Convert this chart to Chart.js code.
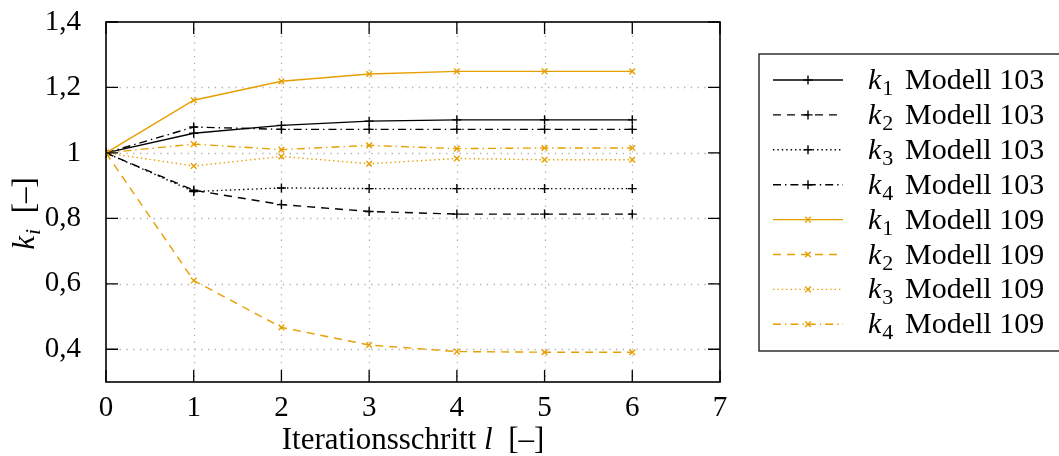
<!DOCTYPE html>
<html>
<head>
<meta charset="utf-8">
<script src="https://cdn.jsdelivr.net/npm/chart.js@4/dist/chart.umd.min.js"></script>
<style>
  html, body { margin: 0; padding: 0; background: #fff; }
  #wrap { width: 1059px; height: 456px; position: relative; }
</style>
</head>
<body>
<div id="wrap"><canvas id="c" width="1059" height="456"></canvas></div>
<script>
// Iteration steps and convergence factors k_i per model
const steps = [0, 1, 2, 3, 4, 5, 6];
const k1_103 = [1, 1.060, 1.084, 1.097, 1.101, 1.101, 1.101];
const k2_103 = [1, 0.886, 0.842, 0.821, 0.813, 0.813, 0.813];
const k3_103 = [1, 0.882, 0.893, 0.891, 0.891, 0.891, 0.891];
const k4_103 = [1, 1.079, 1.072, 1.072, 1.072, 1.072, 1.072];
const k1_109 = [1, 1.161, 1.219, 1.241, 1.249, 1.249, 1.249];
const k2_109 = [1, 0.610, 0.467, 0.413, 0.393, 0.391, 0.391];
const k3_109 = [1, 0.960, 0.989, 0.967, 0.983, 0.979, 0.979];
const k4_109 = [1, 1.027, 1.010, 1.023, 1.013, 1.015, 1.015];

const xTicks = [0, 1, 2, 3, 4, 5, 6, 7];
const yTicks = [0.4, 0.6, 0.8, 1.0, 1.2, 1.4];

const seriesNames = ['1', '2', '3', '4', '1', '2', '3', '4'];
const seriesModels = ['103', '103', '103', '103', '109', '109', '109', '109'];

const BLACK = '#000000';
const ORANGE = '#E69F00';
const SERIF = '"Liberation Serif", "DejaVu Serif", serif';
const TICK_FS = 29;
const TITLE_FS = 31;
const LEGEND_FS = 30;

const DASH = {
  solid: [],
  dashed: [8, 6],
  dotted: [1.4, 3],
  dashdot: [8, 4, 1.4, 4]
};

function makeSet(label, values, color, dash, marker, radius, idx) {
  return {
    label: label,
    data: steps.map((s, i) => ({ x: s, y: values[i] })),
    borderColor: color,
    backgroundColor: color,
    borderWidth: 1.4,
    borderDash: dash,
    pointStyle: marker,
    pointRadius: radius,
    pointBorderWidth: 1.4,
    pointBorderColor: color,
    pointBackgroundColor: color,
    pointHoverRadius: radius,
    tension: 0,
    fill: false,
    order: 8 - idx
  };
}

const datasets = [
  makeSet('k1 Modell 103', k1_103, BLACK, DASH.solid, 'cross', 4.5, 0),
  makeSet('k2 Modell 103', k2_103, BLACK, DASH.dashed, 'cross', 4.5, 1),
  makeSet('k3 Modell 103', k3_103, BLACK, DASH.dotted, 'cross', 4.5, 2),
  makeSet('k4 Modell 103', k4_103, BLACK, DASH.dashdot, 'cross', 4.5, 3),
  makeSet('k1 Modell 109', k1_109, ORANGE, DASH.solid, 'crossRot', 4, 4),
  makeSet('k2 Modell 109', k2_109, ORANGE, DASH.dashed, 'crossRot', 4, 5),
  makeSet('k3 Modell 109', k3_109, ORANGE, DASH.dotted, 'crossRot', 4, 6),
  makeSet('k4 Modell 109', k4_109, ORANGE, DASH.dashdot, 'crossRot', 4, 7)
];

function fmtTick(v) {
  if (Math.abs(v - Math.round(v)) < 1e-9) return String(Math.round(v));
  return v.toFixed(1).replace('.', ',');
}

// Grid, frame and inward tick marks
const framePlugin = {
  id: 'frame',
  beforeDatasetsDraw(chart) {
    const { ctx, chartArea: a, scales } = chart;
    ctx.save();
    ctx.strokeStyle = '#b0b0b0';
    ctx.lineWidth = 1.3;
    ctx.setLineDash([1.3, 5.5]);
    xTicks.forEach(v => {
      const px = Math.round(scales.x.getPixelForValue(v)) + 0.5;
      if (px <= a.left + 1 || px >= a.right - 1) return;
      ctx.beginPath(); ctx.moveTo(px, a.top); ctx.lineTo(px, a.bottom); ctx.stroke();
    });
    yTicks.forEach(v => {
      const py = Math.round(scales.y.getPixelForValue(v)) + 0.5;
      if (py <= a.top + 1 || py >= a.bottom - 1) return;
      ctx.beginPath(); ctx.moveTo(a.left, py); ctx.lineTo(a.right, py); ctx.stroke();
    });
    ctx.restore();
  },
  afterDatasetsDraw(chart) {
    const { ctx, chartArea: a, scales } = chart;
    const tl = 12;
    ctx.save();
    ctx.setLineDash([]);
    ctx.strokeStyle = '#000';
    ctx.lineWidth = 1.3;
    xTicks.forEach(v => {
      const px = scales.x.getPixelForValue(v);
      ctx.beginPath();
      ctx.moveTo(px, a.bottom); ctx.lineTo(px, a.bottom - tl);
      ctx.moveTo(px, a.top); ctx.lineTo(px, a.top + tl);
      ctx.stroke();
    });
    yTicks.forEach(v => {
      const py = scales.y.getPixelForValue(v);
      ctx.beginPath();
      ctx.moveTo(a.left, py); ctx.lineTo(a.left + tl, py);
      ctx.moveTo(a.right, py); ctx.lineTo(a.right - tl, py);
      ctx.stroke();
    });
    ctx.lineWidth = 1.6;
    ctx.strokeRect(a.left, a.top, a.right - a.left, a.bottom - a.top);
    ctx.restore();
  }
};

// Draws "k" with an index subscript, returns the advance width
function drawKSub(ctx, sub, x, y, size) {
  ctx.font = 'italic ' + size + 'px ' + SERIF;
  ctx.fillText('k', x, y);
  let w = ctx.measureText('k').width + 1;
  const subSize = Math.round(size * 0.72);
  const isLetter = /[a-z]/.test(sub);
  ctx.font = (isLetter ? 'italic ' : '') + subSize + 'px ' + SERIF;
  ctx.fillText(sub, x + w, y + size * 0.2);
  w += ctx.measureText(sub).width;
  return w;
}

// Axis titles and legend box
const textPlugin = {
  id: 'texts',
  afterDraw(chart) {
    const { ctx, chartArea: a } = chart;
    const fs = TITLE_FS;
    ctx.save();
    ctx.fillStyle = '#000';
    ctx.textBaseline = 'alphabetic';
    ctx.textAlign = 'left';

    // x title: Iterationsschritt l [–]
    const p1 = 'Iterationsschritt ';
    const p3 = '  [\u2013]';
    ctx.font = fs + 'px ' + SERIF;
    const w1 = ctx.measureText(p1).width;
    const w3 = ctx.measureText(p3).width;
    ctx.font = 'italic ' + fs + 'px ' + SERIF;
    const w2 = ctx.measureText('l').width;
    const cx = (a.left + a.right) / 2;
    const x0 = cx - (w1 + w2 + w3) / 2;
    const yb = 449;
    ctx.font = fs + 'px ' + SERIF;
    ctx.fillText(p1, x0, yb);
    ctx.font = 'italic ' + fs + 'px ' + SERIF;
    ctx.fillText('l', x0 + w1, yb);
    ctx.font = fs + 'px ' + SERIF;
    ctx.fillText(p3, x0 + w1 + w2, yb);

    // y title: k_i [–], rotated
    ctx.save();
    ctx.translate(34, 213);
    ctx.rotate(-Math.PI / 2);
    ctx.font = fs + 'px ' + SERIF;
    const wb = ctx.measureText('  [\u2013]').width;
    ctx.font = 'italic ' + fs + 'px ' + SERIF;
    const wk = ctx.measureText('k').width + 1 + 7;
    const start = -(wk + wb) / 2;
    const kw = drawKSub(ctx, 'i', start, 0, fs);
    ctx.font = fs + 'px ' + SERIF;
    ctx.fillText('  [\u2013]', start + kw, 0);
    ctx.restore();

    // legend
    const lf = LEGEND_FS;
    const bx = 759, by = 54, bw = 310, bh = 297;
    ctx.lineWidth = 1.4;
    ctx.strokeStyle = '#222';
    ctx.strokeRect(bx, by, bw, bh);
    const rowY0 = 80, rowStep = 34.9;
    chart.data.datasets.forEach((ds, i) => {
      const ry = rowY0 + i * rowStep;
      ctx.save();
      ctx.strokeStyle = ds.borderColor;
      ctx.lineWidth = ds.borderWidth;
      ctx.setLineDash(ds.borderDash);
      ctx.beginPath(); ctx.moveTo(773, ry); ctx.lineTo(843, ry); ctx.stroke();
      ctx.setLineDash([]);
      ctx.lineWidth = ds.pointBorderWidth;
      ctx.beginPath();
      if (ds.pointStyle === 'cross') {
        const r = ds.pointRadius;
        ctx.moveTo(808 - r, ry); ctx.lineTo(808 + r, ry);
        ctx.moveTo(808, ry - r); ctx.lineTo(808, ry + r);
      } else {
        const r = ds.pointRadius * 0.7;
        ctx.moveTo(808 - r, ry - r); ctx.lineTo(808 + r, ry + r);
        ctx.moveTo(808 - r, ry + r); ctx.lineTo(808 + r, ry - r);
      }
      ctx.stroke();
      ctx.restore();
      ctx.fillStyle = '#000';
      ctx.textAlign = 'left';
      const tb = ry + 9;
      drawKSub(ctx, seriesNames[i], 868, tb, lf);
      ctx.font = lf + 'px ' + SERIF;
      ctx.fillText('Modell ' + seriesModels[i], 905, tb);
    });
    ctx.restore();
  }
};

new Chart(document.getElementById('c'), {
  type: 'line',
  data: { datasets: datasets },
  plugins: [framePlugin, textPlugin],
  options: {
    responsive: false,
    animation: false,
    devicePixelRatio: 1,
    layout: { padding: { left: 0, top: 22, right: 339, bottom: 0 } },
    plugins: {
      legend: { display: false },
      tooltip: { enabled: false }
    },
    scales: {
      x: {
        type: 'linear',
        min: 0,
        max: 7,
        afterBuildTicks(scale) { scale.ticks = xTicks.map(v => ({ value: v })); },
        afterFit(scale) {
          scale.height = 74;
          scale.paddingLeft = 0;
          scale.paddingRight = 0;
        },
        grid: { display: false, drawTicks: false },
        border: { display: false },
        ticks: {
          padding: 9,
          color: '#000',
          font: { family: SERIF, size: TICK_FS },
          callback: v => fmtTick(v),
          maxRotation: 0,
          autoSkip: false
        }
      },
      y: {
        type: 'linear',
        min: 0.3,
        max: 1.4,
        afterBuildTicks(scale) { scale.ticks = yTicks.map(v => ({ value: v })); },
        afterFit(scale) {
          scale.width = 106;
          scale.paddingTop = 0;
          scale.paddingBottom = 0;
        },
        grid: { display: false, drawTicks: false },
        border: { display: false },
        ticks: {
          padding: 25,
          color: '#000',
          font: { family: SERIF, size: TICK_FS },
          callback: v => fmtTick(v),
          autoSkip: false
        }
      }
    }
  }
});
</script>
</body>
</html>
